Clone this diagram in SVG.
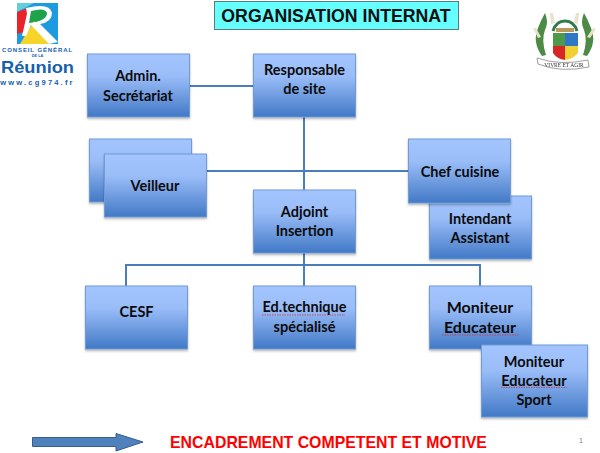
<svg xmlns="http://www.w3.org/2000/svg" width="600" height="453" viewBox="0 0 600 453">
<defs>
<linearGradient id="g" x1="0" y1="0" x2="0" y2="1"><stop offset="0" stop-color="#a3c4ff"/><stop offset="0.35" stop-color="#9abdf8"/><stop offset="1" stop-color="#4279c6"/></linearGradient>
<filter id="s" x="-5%" y="-5%" width="110%" height="115%"><feDropShadow dx="0" dy="1.5" stdDeviation="1" flood-color="#000" flood-opacity="0.3"/></filter>
<filter id="blur" x="-5%" y="-5%" width="110%" height="110%"><feGaussianBlur stdDeviation="0.4"/></filter>
</defs>
<style>
.b{fill:url(#g);stroke:#6f9bd6;stroke-width:1;filter:url(#s)}
.t{font-family:"Lato","Liberation Sans",sans-serif;font-weight:700;font-size:14.5px;fill:#0b0b0b;text-anchor:middle}
.c{fill:none;stroke:#4a7ebb;stroke-width:2}
.w{fill:none;stroke:#d22;stroke-width:0.7;stroke-dasharray:1.5 1}
.lg{font-family:"Liberation Sans",sans-serif;font-weight:700;fill:#1560b0;text-anchor:middle}
.leaf{fill:#4d8a45}
.fl{fill:#e8e4cc}
</style>
<rect width="600" height="453" fill="#fff"/>
<g id="logo-reunion">
<rect x="17" y="3" width="41" height="41" fill="#1e9be0"/>
<path d="M17 3H34L17 12Z" fill="#5fd0d8"/>
<path d="M17 12 L28 8 L24 32 L17 34Z" fill="#e8232a"/>
<path d="M30 12 Q44 6 47 13 Q46 21 29 24Z" fill="#1fa348"/>
<path d="M20 44 L34 21 L49 44Z" fill="#f5d52a"/>
<path d="M26 8 Q50 2 52 13 Q52 22 40 24 L58 42 L49 44 L31 25 L26 36 L22 36 L27 14 Z M31 11 L29 23 Q47 21 47 13 Q45 7 31 11Z" fill="#fff"/>
<text class="lg" x="37.500" y="51.500" font-size="6" letter-spacing="0.9">CONSEIL GÉNÉRAL</text>
<text class="lg" x="37.500" y="56.500" font-size="3.800">DE LA</text>
<text class="lg" x="37.500" y="72.500" font-size="16.500" textLength="73" lengthAdjust="spacingAndGlyphs">Réunion</text>
<text class="lg" x="37.500" y="85" font-size="7.500" letter-spacing="2.200" font-weight="400">www.cg974.fr</text>
</g>
<g id="logo-blason" filter="url(#blur)">
<path class="leaf" d="M545 13Q549 22 545 30Q541 40 546 55L542 56Q532 42 538 28Q541 20 545 13Z"/>
<path class="leaf" d="M584 13Q580 22 584 30Q588 40 583 55L587 56Q597 42 591 28Q588 20 584 13Z"/>
<path d="M553 31Q556 21 565 21Q574 21 577 31" fill="none" stroke="#2f7a4a" stroke-width="3"/>
<path class="fl" d="M550 13l3 0l2 10l-4 1Z M576 13l3 0l-1 11l-4 -1Z M533 28l3 0l5 9l-3 1Z M593 28l3 1l-6 9l-3 -1Z"/>
<rect x="553" y="33" width="12" height="13" fill="#4f9a4a"/>
<rect x="565" y="33" width="13" height="13" fill="#2f78c8"/>
<path d="M553 46H565V60Q557 59 553 53Z" fill="#d62828"/>
<path d="M565 46H578V53Q573 59 565 60Z" fill="#f0d030"/>
<rect x="556" y="28" width="18" height="4" fill="#b89a5a"/>
<path d="M537 58Q560 66 588 60L589 67Q560 73 538 64Z" fill="#fff" stroke="#777" stroke-width="0.7"/>
<text x="564" y="67" font-family="Liberation Serif,serif" font-size="5.500" text-anchor="middle" fill="#333">VIVRE ET AGIR</text>
</g>
<g id="title">
<rect x="214.500" y="1.500" width="244" height="28" fill="#66ffff" stroke="#5a7a80" stroke-width="1"/>
<text x="336" y="22" font-family="Liberation Sans,sans-serif" font-weight="700" font-size="17.700" text-anchor="middle" fill="#111">ORGANISATION INTERNAT</text>
</g>
<g id="connectors">
<path class="c" d="M190 86H253M304 117V286M207 171H408M126 286V265H480V286"/>
</g>
<g id="admin"><rect class="b" x="87.500" y="54" width="102" height="63"/><text class="t" x="138" y="81">Admin.</text><text class="t" x="138" y="101">Secrétariat</text></g>
<g id="responsable"><rect class="b" x="253.500" y="54" width="102" height="63"/><text class="t" x="304.500" y="75">Responsable</text><text class="t" x="304.500" y="94">de site</text></g>
<g id="veilleur-back"><rect class="b" x="89.500" y="139" width="102" height="63"/></g>
<g id="veilleur"><rect class="b" x="104.500" y="154" width="102" height="63"/><text class="t" x="155" y="191">Veilleur</text></g>
<g id="intendant"><rect class="b" x="429.500" y="196" width="102" height="63"/><text class="t" x="480" y="224">Intendant</text><text class="t" x="480" y="243">Assistant</text></g>
<g id="chef"><rect class="b" x="408.500" y="139" width="102" height="64"/><text class="t" x="460" y="177">Chef cuisine</text></g>
<g id="adjoint"><rect class="b" x="253.500" y="190" width="102" height="63"/><text class="t" x="304.500" y="217">Adjoint</text><text class="t" x="304.500" y="236">Insertion</text></g>
<g id="cesf"><rect class="b" x="85.500" y="286" width="102" height="63"/><text class="t" x="136.500" y="317">CESF</text></g>
<g id="edtech"><rect class="b" x="253.500" y="286" width="102" height="63"/><text class="t" x="304.500" y="312">Ed.technique</text><text class="t" x="304.500" y="332">spécialisé</text><path class="w" d="M262 315H345"/></g>
<g id="moniteur"><rect class="b" x="429.500" y="286" width="102" height="63"/><text class="t" x="480" y="313" style="font-size:16px">Moniteur</text><text class="t" x="480" y="333" style="font-size:16px">Educateur</text><path class="w" d="M442 335H519"/></g>
<g id="sport"><rect class="b" x="481.500" y="345" width="106" height="72"/><text class="t" x="534" y="367">Moniteur</text><text class="t" x="534" y="385.500">Educateur</text><text class="t" x="534" y="405">Sport</text><path class="w" d="M501 387.500H567"/></g>
<g id="arrow"><path d="M32.500 437.500H116V433.500L143 442L116 451V446.500H32.500Z" fill="#4f81bd" stroke="#385d8a" stroke-width="1"/></g>
<g id="footer">
<text x="328.500" y="448" font-family="Liberation Sans,sans-serif" font-weight="700" font-size="15.850" text-anchor="middle" fill="#f00">ENCADREMENT COMPETENT ET MOTIVE</text>
<text x="581" y="443" font-family="Liberation Sans,sans-serif" font-size="8" text-anchor="middle" fill="#8a8a8a">1</text>
</g>
</svg>
